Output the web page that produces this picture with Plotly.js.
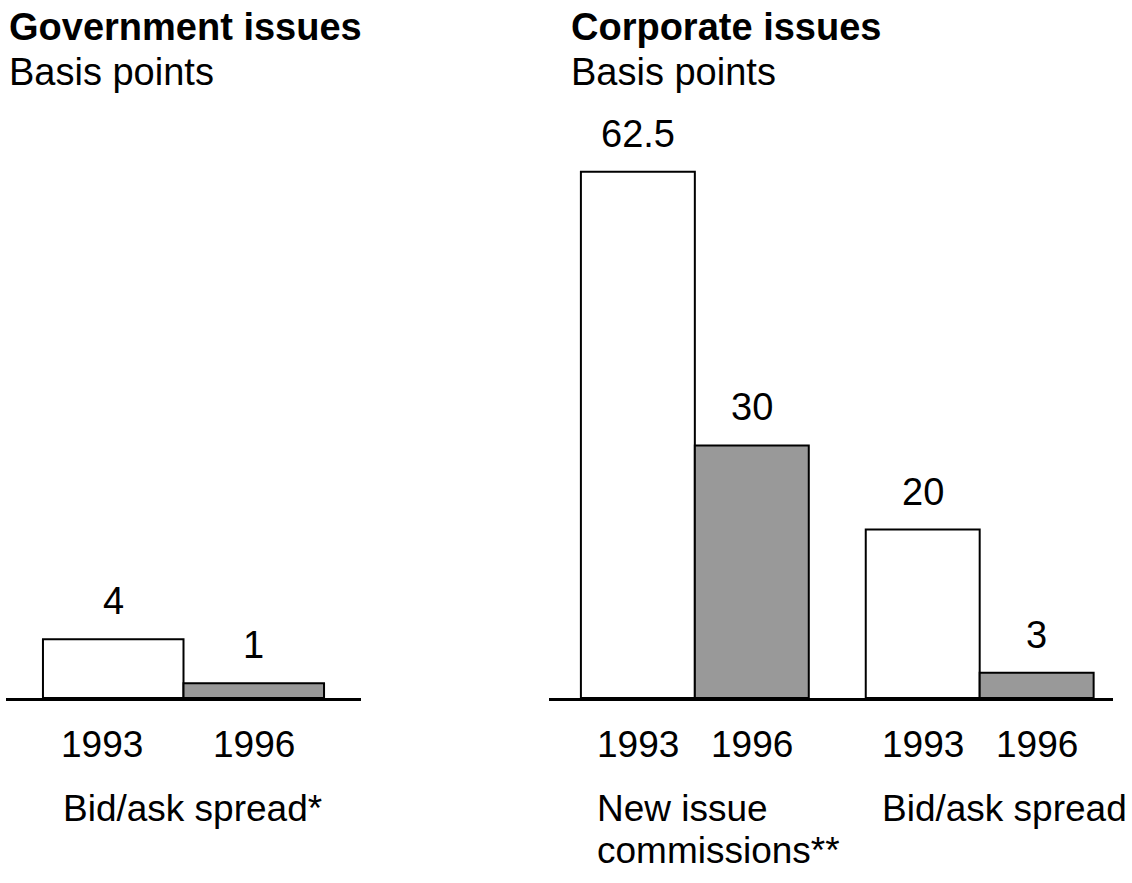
<!DOCTYPE html>
<html>
<head>
<meta charset="utf-8">
<script src="https://cdn.plot.ly/plotly-3.0.1.min.js"></script>
<style>html,body{margin:0;padding:0;background:#fff;}#chart{width:1132px;height:883px;}</style>
</head>
<body>
<div id="chart"></div>
<script>
// ---- data ----
const years = ['1993', '1996'];
const govGroups = ['Bid/ask spread*'];
const govValues = [4, 1];
const corpGroups = ['New issue<br>commissions**', 'Bid/ask spread'];
const corpCommissions = [62.5, 30];
const corpBidAsk = [20, 3];
const panelTitles = ['Government issues', 'Corporate issues'];
const unitLabel = 'Basis points';

// ---- build ----
const W = 1132, H = 883;
const FONT = 'Liberation Sans, Arial, Helvetica, sans-serif';
const FS = 37, FS_TITLE = 38;
const yearColors = ['#ffffff', '#999999'];
const groupGap = 0.5;

function px(x) { return x / W; }
function py(y) { return 1 - y / H; }

// positions
const govX = years.map((_, i) => i);
const corpValues = corpCommissions.concat(corpBidAsk);
const corpX = [];
const corpYears = [];
corpGroups.forEach((g, gi) => years.forEach((yr, yi) => { corpX.push(gi * (years.length + groupGap) + yi); corpYears.push(yr); }));

const barLine = { color: '#000', width: 2 };
const traces = [
  { type: 'bar', x: govX, y: govValues, width: 1, xaxis: 'x', yaxis: 'y',
    marker: { color: years.map((_, i) => yearColors[i]), line: barLine }, hoverinfo: 'skip' },
  { type: 'bar', x: corpX, y: corpValues, width: 1, xaxis: 'x2', yaxis: 'y2',
    marker: { color: corpYears.map(y => yearColors[years.indexOf(y)]), line: barLine }, hoverinfo: 'skip' }
];

const baseY = 698, topY = 100;
const yDom = [py(baseY), py(topY)];
const plotH = baseY - topY;
const govScale = 14.7, corpScale = 8.42;

const txtFont = { family: FONT, size: FS, color: '#000' };
const titleFont = { family: FONT, size: FS_TITLE, color: '#000' };
const annotations = [];
// value labels
govValues.forEach((v, i) => annotations.push({ xref: 'x', yref: 'y', x: govX[i], y: v, text: String(v), showarrow: false, yanchor: 'bottom', yshift: 15, font: titleFont }));
corpValues.forEach((v, i) => annotations.push({ xref: 'x2', yref: 'y2', x: corpX[i], y: v, text: String(v), showarrow: false, yanchor: 'bottom', yshift: 15, font: titleFont }));
// year labels (category labels under bars)
const govYearShift = [-11, 0];
years.forEach((yr, i) => annotations.push({ xref: 'x', yref: 'paper', x: govX[i], xshift: govYearShift[i], y: py(744), yanchor: 'middle', text: yr, showarrow: false, font: txtFont }));
corpYears.forEach((yr, i) => annotations.push({ xref: 'x2', yref: 'paper', x: corpX[i], y: py(744), yanchor: 'middle', text: yr, showarrow: false, font: txtFont }));
// group labels (one annotation per line, tighter line spacing)
function groupLabel(axis, xpos, shift, text) {
  text.split('<br>').forEach((line, li) => annotations.push({ xref: axis, yref: 'paper', x: xpos, xshift: shift, y: py(808 + li * 42), yanchor: 'middle', xanchor: 'left', align: 'left', text: line, showarrow: false, font: txtFont }));
}
govGroups.forEach((g, gi) => groupLabel('x', gi * (years.length + groupGap), -52, g));
corpGroups.forEach((g, gi) => groupLabel('x2', gi * (years.length + groupGap), -43, g));
// panel titles
[7, 569].forEach((xp, i) => {
  annotations.push({ xref: 'paper', yref: 'paper', x: px(xp), y: py(27), xanchor: 'left', yanchor: 'middle', text: '<b>' + panelTitles[i] + '</b>', showarrow: false, font: titleFont });
  annotations.push({ xref: 'paper', yref: 'paper', x: px(xp), y: py(72), xanchor: 'left', yanchor: 'middle', text: unitLabel, showarrow: false, font: titleFont });
});

const xcommon = { showline: true, linewidth: 3, linecolor: '#000', showgrid: false, zeroline: false, ticks: '', showticklabels: false, fixedrange: true };
const ycommon = { visible: false, showgrid: false, zeroline: false, fixedrange: true, domain: yDom };

const layout = {
  width: W, height: H,
  margin: { l: 0, r: 0, t: 0, b: 0 },
  paper_bgcolor: '#fff', plot_bgcolor: '#fff',
  showlegend: false, bargap: 0,
  font: txtFont,
  xaxis: Object.assign({}, xcommon, { domain: [px(6), px(361)], range: [-0.763, 1.763], anchor: 'y' }),
  yaxis: Object.assign({}, ycommon, { range: [0, plotH / govScale], anchor: 'x' }),
  xaxis2: Object.assign({}, xcommon, { domain: [px(549), px(1113)], range: [-0.78, 4.17], anchor: 'y2' }),
  yaxis2: Object.assign({}, ycommon, { range: [0, plotH / corpScale], anchor: 'x2' }),
  annotations: annotations
};

Plotly.newPlot('chart', traces, layout, { staticPlot: true, displayModeBar: false });
</script>
</body>
</html>
